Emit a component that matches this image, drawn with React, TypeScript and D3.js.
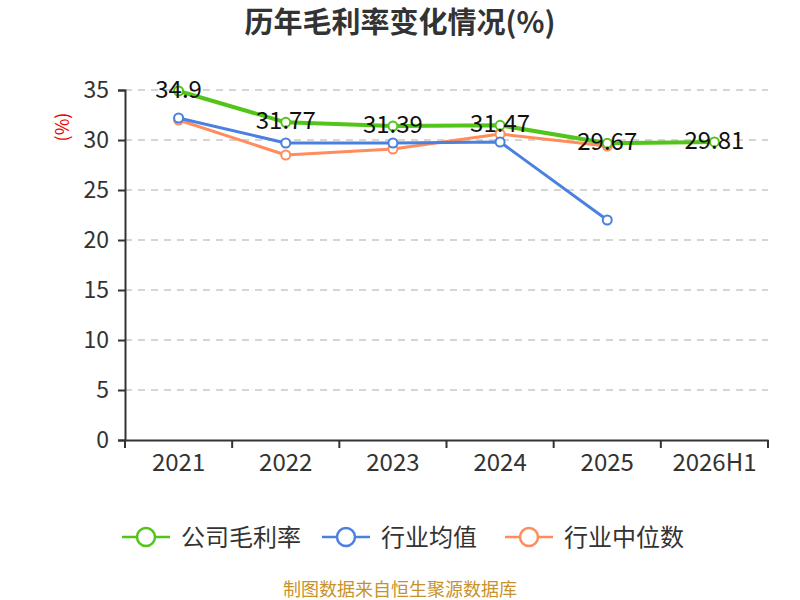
import { useEffect, useRef } from 'react';
import * as d3 from 'd3';

const categories = ['2021', '2022', '2023', '2024', '2025', '2026H1'];
const companyMargin = [34.9, 31.77, 31.39, 31.47, 29.67, 29.81];
const industryMean = [32.2, 29.7, 29.7, 29.8, 22.0];
const industryMedian = [32.0, 28.5, 29.1, 30.6, 29.4];
const yTicks = [0, 5, 10, 15, 20, 25, 30, 35];

const series = [
  { name: '公司毛利率', values: companyMargin, color: '#52c41a', width: 4 },
  { name: '行业均值', values: industryMean, color: '#4a80e0', width: 3 },
  { name: '行业中位数', values: industryMedian, color: '#ff8c5a', width: 3 },
];

const App = () => {
  const ref = useRef<SVGSVGElement | null>(null);

  useEffect(() => {
    if (!ref.current) return;
    const svg = d3.select(ref.current);
    svg.selectAll('*').remove();
    const font = '"Noto Sans CJK SC", "Noto Sans", sans-serif';
    svg.attr('font-family', font);

    const margin = { top: 90, right: 32, bottom: 160, left: 125 };
    const width = 800 - margin.left - margin.right;
    const height = 600 - margin.top - margin.bottom;

    const x = d3.scaleBand<string>().domain(categories).range([0, width]);
    const y = d3.scaleLinear().domain([0, 35]).range([height, 0]);

    // title
    svg.append('text')
      .attr('x', 400).attr('y', 33)
      .attr('text-anchor', 'middle')
      .attr('font-size', 29).attr('font-weight', 'bold').attr('fill', '#333')
      .text('历年毛利率变化情况(%)');

    const g = svg.append('g').attr('transform', `translate(${margin.left},${margin.top})`);

    // grid
    g.selectAll('.grid')
      .data(yTicks.filter(t => t > 0))
      .enter().append('line')
      .attr('x1', 0).attr('x2', width)
      .attr('y1', d => y(d)).attr('y2', d => y(d))
      .attr('stroke', '#c8c8c8').attr('stroke-width', 1.5)
      .attr('stroke-dasharray', '7,6');

    // y axis
    const yAxis = g.append('g')
      .call(d3.axisLeft(y).tickValues(yTicks).tickSize(7).tickPadding(9));
    yAxis.select('.domain').attr('stroke', '#333').attr('stroke-width', 2);
    yAxis.selectAll('.tick line').attr('stroke', '#333').attr('stroke-width', 2);
    yAxis.selectAll('.tick text').attr('fill', '#333').attr('font-size', 23).attr('font-family', font);

    // x axis
    const xAxis = g.append('g')
      .attr('transform', `translate(0,${height})`)
      .call(d3.axisBottom(x).tickSize(0).tickPadding(14));
    xAxis.select('.domain').attr('stroke', '#333').attr('stroke-width', 2);
    xAxis.selectAll('.tick text').attr('fill', '#333').attr('font-size', 24).attr('font-family', font);
    g.selectAll('.xtick')
      .data(d3.range(categories.length + 1))
      .enter().append('line')
      .attr('x1', i => i * x.bandwidth()).attr('x2', i => i * x.bandwidth())
      .attr('y1', height).attr('y2', height + 8)
      .attr('stroke', '#333').attr('stroke-width', 2);

    // y axis title
    svg.append('text')
      .attr('transform', `translate(69,${127}) rotate(-90)`)
      .attr('text-anchor', 'middle')
      .attr('font-size', 18).attr('fill', '#e00')
      .text('(%)');

    const cx = (i: number) => (x(categories[i]) ?? 0) + x.bandwidth() / 2;

    // lines drawn with medians/means first, company last
    [...series].reverse().forEach(s => {
      const line = d3.line<number>().x((_, i) => cx(i)).y(d => y(d));
      g.append('path')
        .datum(s.values)
        .attr('fill', 'none')
        .attr('stroke', s.color)
        .attr('stroke-width', s.width)
        .attr('stroke-linejoin', 'round')
        .attr('d', line);
      g.selectAll(null)
        .data(s.values)
        .enter().append('circle')
        .attr('cx', (_, i) => cx(i))
        .attr('cy', d => y(d))
        .attr('r', 4.5)
        .attr('fill', '#fff')
        .attr('stroke', s.color)
        .attr('stroke-width', 2);
    });

    // labels for company
    g.selectAll('.lbl')
      .data(companyMargin)
      .enter().append('text')
      .attr('x', (_, i) => cx(i))
      .attr('y', d => y(d) + 7)
      .attr('text-anchor', 'middle')
      .attr('font-size', 24).attr('fill', '#111')
      .text(d => String(d));

    // legend
    const legendX = [122, 322, 505];
    series.forEach((s, i) => {
      const lg = svg.append('g').attr('transform', `translate(${legendX[i]},537)`);
      lg.append('line').attr('x1', 0).attr('x2', 48).attr('y1', 0).attr('y2', 0)
        .attr('stroke', s.color).attr('stroke-width', 2.5);
      lg.append('circle').attr('cx', 24).attr('cy', 0).attr('r', 9)
        .attr('fill', '#fff').attr('stroke', s.color).attr('stroke-width', 2.5);
      lg.append('text').attr('x', 59).attr('y', 9)
        .attr('font-size', 24).attr('fill', '#333')
        .text(s.name);
    });

    // footer
    svg.append('text')
      .attr('x', 400).attr('y', 596)
      .attr('text-anchor', 'middle')
      .attr('font-size', 18).attr('fill', '#c8922a')
      .text('制图数据来自恒生聚源数据库');
  }, []);

  return (
    <svg ref={ref} width={800} height={600}
      style={{ position: 'absolute', left: 0, top: 0, background: '#fff' }} />
  );
};

export default App;
